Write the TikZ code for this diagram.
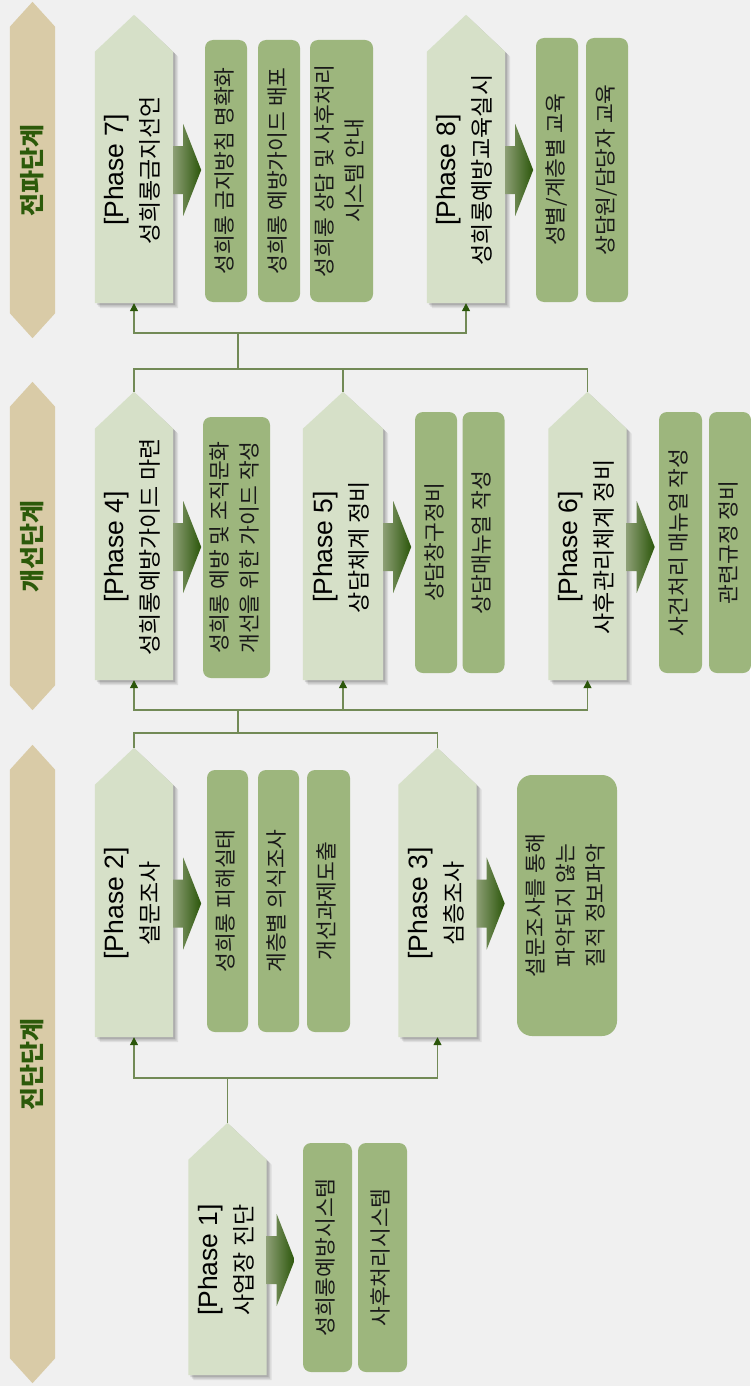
\documentclass[tikz,border=0pt]{standalone}
\usepackage{fontspec}
\usepackage{graphicx}
\setmainfont{Liberation Sans}
\newfontfamily\kr{Noto Sans CJK KR}
\usetikzlibrary{calc,arrows.meta}
\definecolor{bgc}{HTML}{F0F0F0}
\definecolor{tanc}{HTML}{D9CBA7}
\definecolor{bantext}{HTML}{2C5A0A}
\definecolor{phasefill}{HTML}{D6E0C8}
\definecolor{itemfill}{HTML}{9DB67D}
\definecolor{connc}{HTML}{728A56}
\definecolor{arrowdark}{HTML}{2B560A}
\definecolor{arrowlight}{HTML}{8C9E74}
\pgfdeclarelayer{back}\pgfdeclarelayer{bg}\pgfsetlayers{back,bg,main}
\newcommand\ptxt[2]{\rotatebox{90}{\fontsize{26.5}{35}\selectfont\begin{tabular}{@{}c@{}}[Phase #1]\\{\kr\fontsize{23}{35}\selectfont #2}\end{tabular}\hspace{22pt}}}
\newcommand\itxt[1]{\rotatebox{90}{\kr\fontsize{21.5}{30}\selectfont\begin{tabular}{@{}c@{}}#1\end{tabular}}}
\newcommand\btxt[1]{\rotatebox{90}{\kr\bfseries\fontsize{25}{30}\selectfont #1}}
\newcommand\pentfill[2]{\fill[#2] (#1.south west) -- (#1.south east) -- ($(#1.north east)+(0,37)$) -- (#1.north) -- ($(#1.north west)+(0,37)$) -- cycle;}
\newcommand\phshape[1]{\begin{pgfonlayer}{bg}%
\foreach \s/\o in {5/0.08,3.5/0.10,2/0.12}{\begin{scope}[transform canvas={shift={(\s,\s)}}]\pentfill{#1}{black,opacity=\o}\end{scope}}%
\pentfill{#1}{phasefill}%
\coordinate (#1a) at ($(#1.east)+(0,11)$);%
\shade[left color=arrowlight,right color=arrowdark] ($(#1a)+(0,-24)$) -- ($(#1a)+(10,-24)$) -- ($(#1a)+(10,-46)$) -- ($(#1a)+(28,0)$) -- ($(#1a)+(10,46)$) -- ($(#1a)+(10,24)$) -- ($(#1a)+(0,24)$) -- cycle;%
\end{pgfonlayer}}
\newcommand\bnshape[1]{\begin{pgfonlayer}{bg}\fill[tanc] (#1.north) -- ($(#1.north east)+(0,25)$) -- ($(#1.south east)+(0,-25)$) -- (#1.south) -- ($(#1.south west)+(0,-25)$) -- ($(#1.north west)+(0,25)$) -- cycle;\end{pgfonlayer}}
\tikzset{
  x=1pt,y=-1pt,
  phase/.style={minimum width=78pt,minimum height=288pt,inner sep=0pt,text=black},
  item/.style={fill=itemfill,rounded corners=8pt,inner sep=0pt,text=black!90},
  banner/.style={minimum width=45pt,inner sep=0pt,text=bantext},
  conn/.style={draw=connc,line width=1.3pt},
  tip/.style={conn,-{Triangle[width=8pt,length=8pt,color=arrowdark,fill=arrowdark]}}
}
\begin{document}
\begin{tikzpicture}
\begin{pgfonlayer}{back}
\fill[bgc] (0,0) rectangle (750,1386);
\end{pgfonlayer}
\useasboundingbox (0,0) rectangle (750,1386);

% banners
\node[banner,minimum height=336pt] (b1) at (32.5,170) {\btxt{전파단계}};
\node[banner,minimum height=328pt] (b2) at (32.5,546) {\btxt{개선단계}};
\node[banner,minimum height=638pt] (b3) at (32.5,1064) {\btxt{진단단계}};
\bnshape{b1}\bnshape{b2}\bnshape{b3}

% phases
\node[phase] (p7) at (134,159) {\ptxt{7}{성희롱금지선언}};
\node[phase] (p8) at (466,159) {\ptxt{8}{성희롱예방교육실시}};
\node[phase] (p4) at (134,536) {\ptxt{4}{성희롱예방가이드 마련}};
\node[phase,minimum width=80pt] (p5) at (343,536) {\ptxt{5}{상담체계 정비}};
\node[phase] (p6) at (587.5,536) {\ptxt{6}{사후관리체계 정비}};
\node[phase,minimum height=289pt] (p2) at (134,892.5) {\ptxt{2}{설문조사}};
\node[phase,minimum height=289pt] (p3) at (437.5,892.5) {\ptxt{3}{심층조사}};
\node[phase,minimum height=252pt] (p1) at (227.5,1249) {\ptxt{1}{사업장 진단}};
\phshape{p7}\phshape{p8}\phshape{p4}\phshape{p5}\phshape{p6}\phshape{p2}\phshape{p3}\phshape{p1}

% items
\node[item,minimum width=42pt,minimum height=262pt] (i7a) at (226,171) {\itxt{성희롱 금지방침 명확화}};
\node[item,minimum width=42pt,minimum height=262pt] (i7b) at (279,171) {\itxt{성희롱 예방가이드 배포}};
\node[item,minimum width=63pt,minimum height=262pt] (i7c) at (341.5,171) {\itxt{성희롱 상담 및 사후처리\\시스템 안내}};
\node[item,minimum width=42pt,minimum height=264pt] (i8a) at (557,170) {\itxt{성별/계층별 교육}};
\node[item,minimum width=42pt,minimum height=264pt] (i8b) at (607,170) {\itxt{상담원/담당자 교육}};
\node[item,minimum width=67pt,minimum height=261pt] (i4a) at (236.5,547.5) {\itxt{성희롱 예방 및 조직문화\\개선을 위한 가이드 작성}};
\node[item,minimum width=42pt,minimum height=261pt] (i5a) at (436,542.5) {\itxt{상담창구정비}};
\node[item,minimum width=42pt,minimum height=261pt] (i5b) at (483.5,542.5) {\itxt{상담매뉴얼 작성}};
\node[item,minimum width=43pt,minimum height=261pt] (i6a) at (680.5,542.5) {\itxt{사건처리 매뉴얼 작성}};
\node[item,minimum width=42pt,minimum height=261pt] (i6b) at (730,542.5) {\itxt{관련규정 정비}};
\node[item,minimum width=41pt,minimum height=262pt] (i2a) at (227.5,901) {\itxt{성희롱 피해실태}};
\node[item,minimum width=41pt,minimum height=262pt] (i2b) at (278.5,901) {\itxt{계층별 의식조사}};
\node[item,minimum width=43pt,minimum height=262pt] (i2c) at (328.5,901) {\itxt{개선과제도출}};
\node[item,rounded corners=15pt,minimum width=100pt,minimum height=261pt] (i3a) at (567,905.5) {\itxt{설문조사를 통해\\파악되지 않는\\질적 정보파악}};
\node[item,minimum width=49pt,minimum height=229pt] (i1a) at (327.5,1257.5) {\itxt{성희롱예방시스템}};
\node[item,minimum width=49pt,minimum height=229pt] (i1b) at (382.5,1257.5) {\itxt{사후처리시스템}};

% connectors
\coordinate (j1) at (227.5,1078);
\coordinate (j2) at (238,733);
\coordinate (j3) at (238,710);
\coordinate (j4) at (238,369);
\coordinate (j5) at (238,333);
\draw[conn] (p1.north) -- (j1);
\draw[tip] (j1) -| (p2.south);
\draw[tip] (j1) -| (p3.south);
\draw[conn] (p2.north) |- (j2) -| (p3.north);
\draw[conn] (j2) -- (j3);
\draw[tip] (j3) -| (p4.south);
\draw[tip] (j3) -| (p5.south);
\draw[tip] (j3) -| (p6.south);
\draw[conn] (p4.north) |- (j4) -| (p6.north);
\draw[conn] (p5.north) -- (p5.north |- j4);
\draw[conn] (j4) -- (j5);
\draw[tip] (j5) -| (p7.south);
\draw[tip] (j5) -| (p8.south);
\end{tikzpicture}
\end{document}
